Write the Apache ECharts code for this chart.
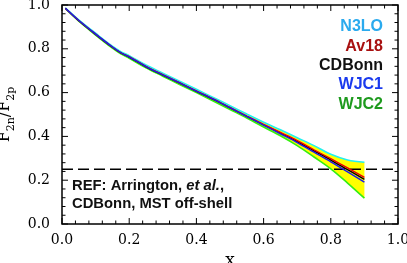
<!DOCTYPE html>
<html>
<head>
<meta charset="utf-8">
<script src="https://cdn.jsdelivr.net/npm/echarts@6/dist/echarts.min.js"></script>
<style>html,body{margin:0;padding:0;background:#fff}#c{width:407px;height:263px}</style>
</head>
<body>
<div id="c"></div>
<script>
var xs      = [0.01,0.05,0.10,0.15,0.175,0.20,0.25,0.30,0.35,0.40,0.45,0.50,0.55,0.60,0.65,0.70,0.75,0.80,0.85,0.90];
var cdbonn  = [0.985,0.928,0.866,0.807,0.781,0.762,0.718,0.680,0.643,0.606,0.569,0.530,0.491,0.453,0.415,0.376,0.334,0.292,0.248,0.204];
var av18    = [0.985,0.929,0.867,0.808,0.782,0.764,0.720,0.682,0.645,0.608,0.571,0.532,0.493,0.455,0.418,0.381,0.339,0.298,0.256,0.213];
var wjc1    = [0.985,0.929,0.867,0.808,0.782,0.763,0.719,0.681,0.644,0.607,0.570,0.531,0.491,0.452,0.412,0.372,0.328,0.284,0.238,0.191];
var n3lo    = [0.987,0.932,0.871,0.812,0.787,0.769,0.726,0.689,0.652,0.615,0.578,0.540,0.502,0.465,0.430,0.394,0.358,0.318,0.292,0.282];
var wjc2    = [0.984,0.926,0.863,0.803,0.777,0.757,0.713,0.675,0.637,0.600,0.562,0.523,0.484,0.443,0.403,0.358,0.306,0.252,0.187,0.118];
var refLine = 0.25;
var majorTicks = [0.0,0.2,0.4,0.6,0.8,1.0];
var minorPerMajor = 5;

function pairs(v){ return xs.map(function(x,i){ return [x, v[i]]; }); }

var serif = 'DejaVu Serif';
var SM = 0.35;

function baseAxis(pos){
  return {
    type:'value', min:0, max:1, interval:0.2, position:pos,
    axisLine:{show:false}, axisTick:{show:false}, splitLine:{show:false},
    axisLabel:{show:true, color:'#000', fontFamily:serif, fontSize:14,
      formatter:function(v){ return v.toFixed(1); }}
  };
}

var xBottom = baseAxis('bottom');
xBottom.axisLabel.margin = 9;
xBottom.name = 'x'; xBottom.nameLocation = 'middle'; xBottom.nameGap = 19;
xBottom.nameTextStyle = {fontFamily:serif, fontSize:17, color:'#000'};
var yLeft = baseAxis('left');
yLeft.axisLabel.margin = 12;
yLeft.name = '{f|F}{s|2n}{f|/F}{s|2p}';
yLeft.nameLocation = 'middle'; yLeft.nameGap = 42; yLeft.nameRotate = 90;
yLeft.nameTextStyle = {color:'#000', rich:{
  f:{fontFamily:serif, fontSize:16, color:'#000', lineHeight:24, verticalAlign:'middle'},
  s:{fontFamily:serif, fontSize:11, color:'#000', lineHeight:24, verticalAlign:'bottom'}
}};

function line(name, data, color, w, z){
  return {name:name, type:'line', data:pairs(data), smooth:SM, showSymbol:false,
    lineStyle:{color:color, width:w}, z:z, silent:true};
}

var bandSeries = {
  type:'custom', coordinateSystem:'cartesian2d', silent:true, z:1,
  data:[[xs[0], n3lo[0]]],
  renderItem:function(params, api){
    var pts = [];
    for (var i=0;i<xs.length;i++) pts.push(api.coord([xs[i], n3lo[i]]));
    for (var j=xs.length-1;j>=0;j--) pts.push(api.coord([xs[j], wjc2[j]]));
    return {type:'polygon', shape:{points:pts}, style:{fill:'#ffff00', stroke:null}};
  }
};

// tick values: majors plus minor subdivisions
var majorVals = majorTicks.slice();
var minorVals = [];
for (var m=0;m<majorTicks.length-1;m++){
  var stp = (majorTicks[m+1]-majorTicks[m])/minorPerMajor;
  for (var k=1;k<minorPerMajor;k++) minorVals.push(+(majorTicks[m]+k*stp).toFixed(4));
}

// inward tick marks drawn as thin rect symbols on the frame edges
function tickSeries(vals, side, len){
  var data, size, off;
  if (side==='bottom'){ data = vals.map(function(v){return [v,0];}); size=[1,len]; off=[0,-len/2]; }
  if (side==='top'){    data = vals.map(function(v){return [v,1];}); size=[1,len]; off=[0, len/2]; }
  if (side==='left'){   data = vals.map(function(v){return [0,v];}); size=[len,1]; off=[ len/2,0]; }
  if (side==='right'){  data = vals.map(function(v){return [1,v];}); size=[len,1]; off=[-len/2,0]; }
  return {type:'scatter', data:data, symbol:'rect', symbolSize:size, symbolOffset:off,
    itemStyle:{color:'#000', opacity:1}, silent:true, clip:false, z:6};
}

var series = [
  bandSeries,
  {type:'line', data:[[0,refLine],[1,refLine]], showSymbol:false, silent:true,
    lineStyle:{color:'#000', width:1.3, type:[11,5]}, z:2},
  line('N3LO', n3lo, '#22f0f0', 1.6, 3),
  line('WJC2', wjc2, '#33ee11', 1.6, 3),
  line('CDBonn', cdbonn, '#000000', 1.4, 4),
  line('Av18', av18, '#ee0000', 1.4, 4),
  line('WJC1', wjc1, '#1a1aee', 1.4, 5)
];
['bottom','top','left','right'].forEach(function(s){
  series.push(tickSeries(majorVals, s, 6));
  series.push(tickSeries(minorVals, s, 3.5));
});

var option = {
  animation:false,
  grid:{left:62, right:9, top:5, bottom:39, containLabel:false, outerBoundsMode:'none',
    show:true, borderColor:'#000', borderWidth:1.5, backgroundColor:'rgba(0,0,0,0)'},
  xAxis:[xBottom],
  yAxis:[yLeft],
  series:series,
  graphic:[
    {type:'text', z:100, right:24, top:19, style:{text:'N3LO', font:'bold 16px "Liberation Sans"', fill:'#2aaaee'}},
    {type:'text', z:100, right:24, top:39, style:{text:'Av18', font:'bold 16px "Liberation Sans"', fill:'#a81010'}},
    {type:'text', z:100, right:24, top:58, style:{text:'CDBonn', font:'bold 16px "Liberation Sans"', fill:'#111111'}},
    {type:'text', z:100, right:24, top:77, style:{text:'WJC1', font:'bold 16px "Liberation Sans"', fill:'#1a3aee'}},
    {type:'text', z:100, right:24, top:97, style:{text:'WJC2', font:'bold 16px "Liberation Sans"', fill:'#1e9a1e'}},
    {type:'text', z:100, left:72, top:178, style:{
      text:'{b|REF: Arrington, }{i|et al.}{b|,}\n{b|CDBonn, MST off-shell}',
      rich:{
        b:{font:'bold 14.8px "Liberation Sans"', fill:'#111', lineHeight:18.5},
        i:{font:'italic bold 14.8px "Liberation Sans"', fill:'#111', lineHeight:18.5}
      }}}
  ]
};
var chart = echarts.init(document.getElementById('c'), null, {renderer:'canvas'});
chart.setOption(option);
</script>
</body>
</html>
